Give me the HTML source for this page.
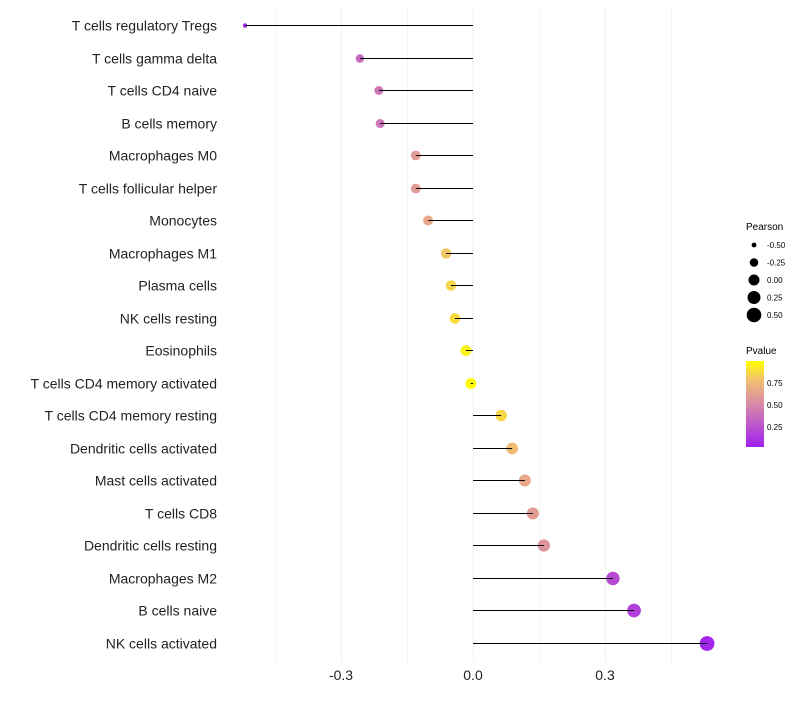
<!DOCTYPE html>
<html><head><meta charset="utf-8"><style>
body{margin:0;background:#fff}
svg text{font-family:"Liberation Sans",sans-serif}
</style></head><body>
<svg id="chart" width="800" height="700" xmlns="http://www.w3.org/2000/svg">
<defs><linearGradient id="pg" x1="0" y1="1" x2="0" y2="0">
<stop offset="0" stop-color="#A020F0"/><stop offset="0.5" stop-color="#D88AA8"/><stop offset="0.78" stop-color="#F2C070"/><stop offset="1" stop-color="#FFFF00"/></linearGradient></defs>
<g id="grid"></g><g id="dots"></g><g id="stems"></g><g id="labels"></g>
<g>
<text x="746" y="230" font-size="10">Pearson</text>
<g id="sizeLegend"></g>
<text x="746" y="354" font-size="10">Pvalue</text>
<rect x="746" y="361" width="18" height="86" fill="url(#pg)"/>
<g id="colorTicks"></g>
</g>
</svg>
<script>
const categories=["T cells regulatory  Tregs","T cells gamma delta","T cells CD4 naive","B cells memory","Macrophages M0","T cells follicular helper","Monocytes","Macrophages M1","Plasma cells","NK cells resting","Eosinophils","T cells CD4 memory activated","T cells CD4 memory resting","Dendritic cells activated","Mast cells activated","T cells CD8","Dendritic cells resting","Macrophages M2","B cells naive","NK cells activated"];
const pearson=[-0.518,-0.257,-0.214,-0.211,-0.130,-0.130,-0.102,-0.061,-0.050,-0.041,-0.016,-0.005,0.064,0.089,0.118,0.136,0.161,0.318,0.366,0.532];
const pvalues=[0.03,0.35,0.40,0.40,0.60,0.60,0.66,0.80,0.85,0.88,0.95,0.98,0.86,0.76,0.66,0.60,0.55,0.20,0.15,0.03];
const xTicks=[-0.3,0.0,0.3];
const sizeLegendVals=[-0.5,-0.25,0,0.25,0.5];
const colorTickVals=[0.25,0.5,0.75];
const NS="http://www.w3.org/2000/svg";
const xs=v=>473+v*440;
const ys=i=>Math.round(25+i*32.5)+0.5;
const rs=v=>Math.sqrt(Math.max(1,25.9+43.6*v))+0.4;
function mk(t,a,p){const e=document.createElementNS(NS,t);for(const k in a)e.setAttribute(k,a[k]);p.appendChild(e);return e;}
function lerp(a,b,t){return a.map((x,i)=>Math.round(x+(b[i]-x)*t));}
function col(p){const s=[[0,[160,32,240]],[0.5,[216,138,168]],[0.78,[242,192,112]],[1,[255,255,0]]];
 for(let i=1;i<s.length;i++){if(p<=s[i][0]){const t=(p-s[i-1][0])/(s[i][0]-s[i-1][0]);const c=lerp(s[i-1][1],s[i][1],t);return `rgb(${c})`;}}return "rgb(255,255,0)";}
const grid=document.getElementById('grid');
for(let v=-0.45;v<=0.46;v+=0.15){const g=mk('line',{x1:Math.round(xs(v))+0.5,x2:Math.round(xs(v))+0.5,y1:5,y2:662,stroke:'#f3f3f3','stroke-width':1},grid);
}
xTicks.forEach(v=>{const t=mk('text',{x:xs(v),y:680,'font-size':14,'text-anchor':'middle',fill:'#222'},grid);t.textContent=v.toFixed(1);
});
const dots=document.getElementById('dots'),stems=document.getElementById('stems'),labels=document.getElementById('labels');
categories.forEach((c,i)=>{
 const d=mk('circle',{cx:xs(pearson[i]),cy:ys(i),r:rs(pearson[i]),fill:col(pvalues[i])},dots);
 
 const l=mk('line',{x1:xs(0),x2:xs(pearson[i]),y1:ys(i),y2:ys(i),stroke:'#000','stroke-width':1},stems);
 
 const t=mk('text',{x:217,y:ys(i)+5,'font-size':14,'text-anchor':'end',fill:'#222'},labels);t.textContent=c;
 
});
const sl=document.getElementById('sizeLegend');
sizeLegendVals.forEach((v,i)=>{const y=245+i*17.5;
 const d=mk('circle',{cx:754,cy:y,r:rs(v),fill:'#000'},sl);
 const t=mk('text',{x:767,y:y+3,'font-size':8},sl);t.textContent=v.toFixed(2);});
const ct=document.getElementById('colorTicks');
colorTickVals.forEach(v=>{const y=447-(v-0.02)*88;
 const t=mk('text',{x:767,y:y+3,'font-size':8},ct);t.textContent=v.toFixed(2);});
</script>
</body></html>
